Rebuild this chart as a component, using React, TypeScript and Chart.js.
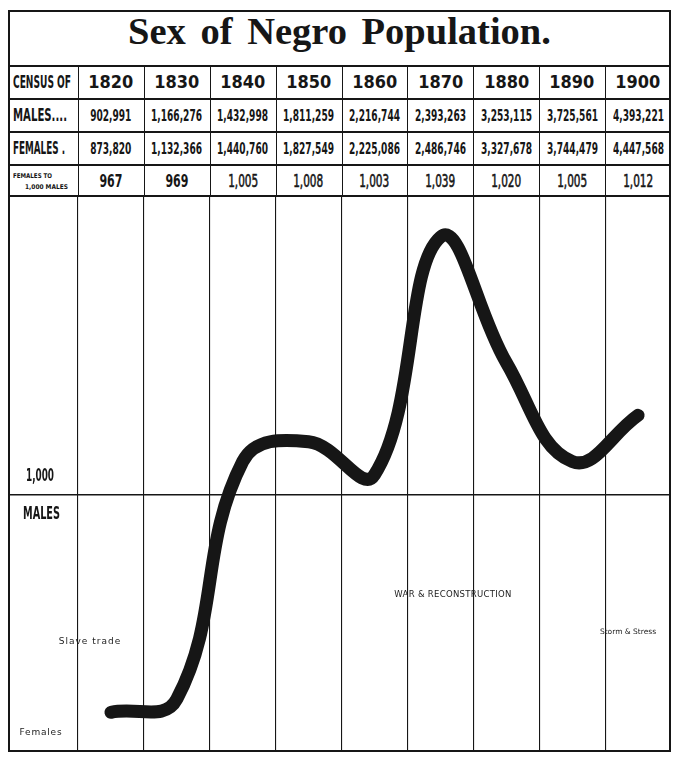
import React, { useEffect, useRef } from "react";
import { Chart, registerables } from "chart.js";

Chart.register(...registerables);

// ---- data ----
const YEARS = [1820, 1830, 1840, 1850, 1860, 1870, 1880, 1890, 1900];
const MALES = [902991, 1166276, 1432998, 1811259, 2216744, 2393263, 3253115, 3725561, 4393221];
const FEMALES = [873820, 1132366, 1440760, 1827549, 2225086, 2486746, 3327678, 3744479, 4447568];
const FEMALES_PER_1000_MALES = [967, 969, 1005, 1008, 1003, 1039, 1020, 1005, 1012];
const GRID_YEARS = [1815, 1825, 1835, 1845, 1855, 1865, 1875, 1885, 1895];
const BASELINE = 1000;

const TITLE = "Sex of Negro Population.";
const ROW_LABELS = ["CENSUS OF", "MALES....", "FEMALES ."];
const RATIO_LABEL = ["FEMALES TO", "1,000 MALES"];
const NOTES = ["Slave trade", "Females", "WAR & RECONSTRUCTION", "Storm & Stress"];

// ---- layout ----
const W = 663;
const LABEL_W = 70;
const COL_W = (W - LABEL_W) / 9;
const TITLE_H = 56;
const ROWS = [56, 89, 122, 155, 186];
const CHART_TOP = 186;
const H = 742;
const CHART_H = H - CHART_TOP;
const X_MIN = 1815 - (LABEL_W / COL_W) * 10;
const X_MAX = 1905;
const PX_PER_UNIT = 6.6;
const ZERO_FROM_TOP = 298.5;
const Y_MAX = BASELINE + ZERO_FROM_TOP / PX_PER_UNIT;
const Y_MIN = BASELINE - (CHART_H - ZERO_FROM_TOP) / PX_PER_UNIT;

const INK = "#161616";
const GOTHIC = "'DejaVu Sans Condensed', 'DejaVu Sans', sans-serif";
const WIDE = "'DejaVu Sans', sans-serif";
const fmt = (n: number) => n.toLocaleString("en-US");

let measureCtx: CanvasRenderingContext2D | null = null;
function textWidth(text: string, font: string) {
  if (!measureCtx) measureCtx = document.createElement("canvas").getContext("2d");
  measureCtx!.font = font;
  return measureCtx!.measureText(text).width || 1;
}

// text squeezed horizontally so that `refText` would measure `target` px
function Cond({ text, family, weight = "bold", size, target, refText, origin = "center", style }: any) {
  const font = `${weight} ${size}px ${family}`;
  const sx = target / textWidth(refText ?? text, font);
  return (
    <span
      style={{
        display: "inline-block",
        fontFamily: family,
        fontWeight: weight,
        fontSize: size,
        lineHeight: 1,
        transform: `scaleX(${sx})`,
        transformOrigin: origin,
        whiteSpace: "nowrap",
        ...style,
      }}
    >
      {text}
    </span>
  );
}

function Cell({ left, top, width, height, children, align = "center", pad = 0 }: any) {
  return (
    <div
      style={{
        position: "absolute",
        left,
        top,
        width,
        height,
        display: "flex",
        alignItems: "center",
        justifyContent: align === "center" ? "center" : "flex-start",
        paddingLeft: pad,
        boxSizing: "border-box",
      }}
    >
      {children}
    </div>
  );
}

function Curve() {
  const ref = useRef<HTMLCanvasElement | null>(null);
  useEffect(() => {
    if (!ref.current) return;
    const chart = new Chart(ref.current, {
      type: "line",
      data: {
        datasets: [
          {
            data: YEARS.map((y, i) => ({ x: y, y: FEMALES_PER_1000_MALES[i] })),
            borderColor: INK,
            borderWidth: 13,
            borderCapStyle: "round",
            borderJoinStyle: "round",
            pointRadius: 0,
            tension: 0.42,
            fill: false,
          },
        ],
      },
      options: {
        animation: false,
        responsive: true,
        maintainAspectRatio: false,
        layout: { padding: 0 },
        plugins: { legend: { display: false }, tooltip: { enabled: false } },
        events: [],
        scales: {
          x: {
            type: "linear",
            min: X_MIN,
            max: X_MAX,
            afterBuildTicks: (s: any) => {
              s.ticks = GRID_YEARS.map((v) => ({ value: v }));
            },
            ticks: { display: false },
            grid: { color: INK, lineWidth: 1.1, drawTicks: false },
            border: { display: false },
          },
          y: {
            type: "linear",
            min: Y_MIN,
            max: Y_MAX,
            afterBuildTicks: (s: any) => {
              s.ticks = [{ value: BASELINE }];
            },
            ticks: { display: false },
            grid: { color: INK, lineWidth: 1.6, drawTicks: false },
            border: { display: false },
          },
        },
      },
    });
    return () => chart.destroy();
  }, []);
  return <canvas ref={ref} />;
}

export default function App() {
  const colLeft = (i: number) => LABEL_W + i * COL_W;
  const hand = {
    position: "absolute" as const,
    fontFamily: "'DejaVu Sans', sans-serif",
    color: "#222",
    whiteSpace: "nowrap" as const,
    transform: "translate(-50%, -50%)",
  };
  return (
    <div style={{ position: "fixed", left: 8, top: 10, width: W, height: H, background: "#fff", color: INK }}>
      {/* title */}
      <div
        style={{
          position: "absolute",
          left: 0,
          top: 0,
          width: W,
          height: TITLE_H,
          textAlign: "center",
          fontFamily: "'Liberation Serif', serif",
          fontWeight: "bold",
          fontSize: 38.5,
          wordSpacing: 5,
          lineHeight: "42px",
        }}
      >
        {TITLE}
      </div>

      {/* table rules */}
      {ROWS.map((y, i) => (
        <div key={"r" + i} style={{ position: "absolute", left: 0, top: y - 0.75, width: W, height: 1.5, background: INK }} />
      ))}
      {YEARS.map((_, i) => (
        <div
          key={"c" + i}
          style={{ position: "absolute", left: Math.round(colLeft(i)) - 0.5, top: ROWS[0], width: 1.3, height: CHART_TOP - ROWS[0], background: INK }}
        />
      ))}

      {/* row labels */}
      <Cell left={0} top={ROWS[0]} width={LABEL_W} height={ROWS[1] - ROWS[0]} align="left" pad={5}>
        <Cond text={ROW_LABELS[0]} family={GOTHIC} size={17} target={58} origin="left center" />
      </Cell>
      <Cell left={0} top={ROWS[1]} width={LABEL_W} height={ROWS[2] - ROWS[1]} align="left" pad={5}>
        <Cond text={ROW_LABELS[1]} family={GOTHIC} size={17} target={54} origin="left center" />
      </Cell>
      <Cell left={0} top={ROWS[2]} width={LABEL_W} height={ROWS[3] - ROWS[2]} align="left" pad={5}>
        <Cond text={ROW_LABELS[2]} family={GOTHIC} size={17} target={52} origin="left center" />
      </Cell>
      <Cell left={0} top={ROWS[3]} width={LABEL_W} height={ROWS[4] - ROWS[3]} align="left" pad={5}>
        <div style={{ lineHeight: "8px", marginTop: -2 }}>
          <div>
            <Cond text={RATIO_LABEL[0]} family={GOTHIC} size={6.5} target={39} origin="left center" />
          </div>
          <div style={{ paddingLeft: 12 }}>
            <Cond text={RATIO_LABEL[1]} family={GOTHIC} size={6.5} target={43} origin="left center" />
          </div>
        </div>
      </Cell>

      {/* year columns */}
      {YEARS.map((yr, i) => (
        <React.Fragment key={"y" + yr}>
          <Cell left={colLeft(i)} top={ROWS[0]} width={COL_W} height={ROWS[1] - ROWS[0]}>
            <Cond text={String(yr)} family={WIDE} size={17} target={45} refText="1820" />
          </Cell>
          <Cell left={colLeft(i)} top={ROWS[1]} width={COL_W} height={ROWS[2] - ROWS[1]}>
            <Cond text={fmt(MALES[i])} family={GOTHIC} size={16} target={51} refText="2,216,744" />
          </Cell>
          <Cell left={colLeft(i)} top={ROWS[2]} width={COL_W} height={ROWS[3] - ROWS[2]}>
            <Cond text={fmt(FEMALES[i])} family={GOTHIC} size={16} target={51} refText="2,216,744" />
          </Cell>
          <Cell left={colLeft(i)} top={ROWS[3]} width={COL_W} height={ROWS[4] - ROWS[3]}>
            {FEMALES_PER_1000_MALES[i] < BASELINE ? (
              <Cond text={fmt(FEMALES_PER_1000_MALES[i])} family={GOTHIC} size={18} target={23} refText="967" />
            ) : (
              <Cond
                text={fmt(FEMALES_PER_1000_MALES[i])}
                family={GOTHIC}
                weight="normal"
                size={18}
                target={30}
                refText="1,008"
                style={{ WebkitTextStroke: "0.6px " + INK }}
              />
            )}
          </Cell>
        </React.Fragment>
      ))}

      {/* chart */}
      <div style={{ position: "absolute", left: 0, top: CHART_TOP, width: W, height: CHART_H }}>
        <Curve />
        <div style={{ position: "absolute", left: 18, top: 278.5, transform: "translateY(-50%)" }}>
          <Cond text={fmt(BASELINE)} family={GOTHIC} size={18} target={28} origin="left center" />
        </div>
        <div style={{ position: "absolute", left: 14.5, top: 316.5, transform: "translateY(-50%)" }}>
          <Cond text="MALES" family={GOTHIC} size={18} target={37} origin="left center" />
        </div>
        <div style={{ ...hand, left: 82, top: 445, fontSize: 9, letterSpacing: 1 }}>{NOTES[0]}</div>
        <div style={{ ...hand, left: 33, top: 536, fontSize: 9, letterSpacing: 0.8 }}>{NOTES[1]}</div>
        <div style={{ ...hand, left: 445, top: 398, fontSize: 8.5, letterSpacing: 0.3 }}>{NOTES[2]}</div>
        <div style={{ ...hand, left: 620, top: 435, fontSize: 7.5 }}>{NOTES[3]}</div>
      </div>

      {/* frame */}
      <div
        style={{
          position: "absolute",
          left: 0,
          top: 0,
          width: W,
          height: H,
          border: `2px solid ${INK}`,
          boxSizing: "border-box",
          pointerEvents: "none",
        }}
      />
    </div>
  );
}
